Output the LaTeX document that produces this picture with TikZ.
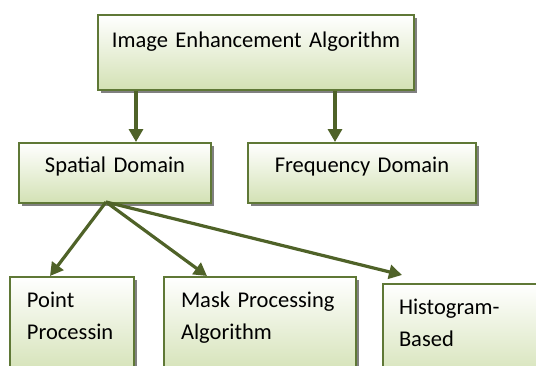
\documentclass[tikz,border=0pt]{standalone}
\usepackage{fontspec}
\setmainfont{Carlito}
\usetikzlibrary{arrows.meta,shadows}
\definecolor{arrowgreen}{HTML}{4F6228}
\definecolor{boxline}{HTML}{5F7836}
\definecolor{boxfill}{HTML}{D3E1B4}

\begin{document}
\begin{tikzpicture}[
    x=1pt, y=-1pt,
    box/.style={
        draw=boxline,
        line width=2pt,
        top color=white,
        bottom color=boxfill,
        drop shadow={shadow xshift=3pt, shadow yshift=-3pt, fill=black!50, opacity=1},
        inner ysep=0pt,
        anchor=north west,
        font=\fontsize{22.5}{32}\selectfont,
    },
    upperbox/.style={
        box,
        inner xsep=0pt,
        align=center,
    },
    lowerbox/.style={
        box,
        align=left,
        text height=30pt,
        text depth=70pt,
    },
    link/.style={
        draw=arrowgreen,
        line width=3.2pt,
        -{Triangle[length=13pt,width=14pt]},
    },
]
\useasboundingbox (0,0) rectangle (536,365);
\clip (0,0) rectangle (536,365);

% top level
\node[upperbox, text width=316pt, text height=32pt, text depth=43pt] (iea) at (97,14) {Image Enhancement Algorithm};

% domains
\node[upperbox, text width=192pt, text height=29pt, text depth=31pt] (sd) at (18,142) {Spatial Domain};
\node[upperbox, text width=228pt, text height=29pt, text depth=31pt] (fd) at (247,142) {Frequency Domain};

% spatial methods
\node[lowerbox, inner xsep=17pt, text width=90pt] (pp) at (9,276) {Point\\Processin};
\node[lowerbox, inner xsep=17pt, text width=158pt] (mp) at (163,276) {Mask Processing\\Algorithm};
\node[lowerbox, inner xsep=16pt, text width=131pt] (hb) at (382,283) {Histogram-\\Based};

\coordinate (ieaL) at ([xshift=39pt]iea.south west);
\coordinate (ieaR) at ([xshift=238pt]iea.south west);
\coordinate (sdOut) at ([xshift=-9pt,yshift=2pt]sd.south);
\coordinate (ppIn) at ([xshift=41pt]pp.north west);
\coordinate (mpIn) at ([xshift=44pt]mp.north west);
\coordinate (hbIn) at ([xshift=20pt,yshift=8pt]hb.north west);

\draw[link] (ieaL) -- (ieaL |- sd.north);
\draw[link] (ieaR) -- (ieaR |- fd.north);
\draw[link] (sdOut) -- (ppIn);
\draw[link] (sdOut) -- (mpIn);
\draw[link] (sdOut) -- (hbIn);

\end{tikzpicture}
\end{document}
